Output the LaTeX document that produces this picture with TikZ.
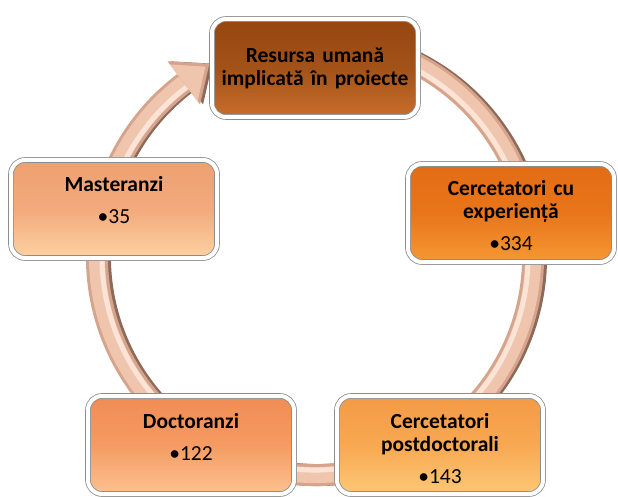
\documentclass[tikz,border=0pt]{standalone}
\usepackage{fontspec}
\setmainfont{Carlito}[WordSpace=0.75]
\usetikzlibrary{positioning,calc,backgrounds}
\definecolor{ringshadow}{HTML}{8C6A5A}
\definecolor{ringedge}{HTML}{D6A48C}
\definecolor{ringbody}{HTML}{EFC5AE}
\definecolor{ringlight}{HTML}{FBE3D6}
\tikzset{
  stage/.style={draw=black!45,line width=0.8pt,double=white,double distance=4pt,
    rounded corners=14pt,minimum width=206pt,minimum height=98pt,
    text width=200pt,align=center,inner sep=0pt,
    text height=14pt,text depth=48pt,
    font=\fontsize{21.5}{23}\selectfont\bfseries},
}
\begin{document}
\begin{tikzpicture}[x=1pt,y=1pt]
  \useasboundingbox (0,0) rectangle (618,496);
  % five stages
  \node[stage,text height=16pt,text depth=27.5pt,
    top color={rgb,255:red,150;green,70;blue,16},
    bottom color={rgb,255:red,200;green,110;blue,44},
    middle color={rgb,255:red,163;green,82;blue,24}] (res) at (315,428)
    {Resursa umană\\implicată în proiecte};
  \node[stage,top color={rgb,255:red,226;green,108;blue,20},
    bottom color={rgb,255:red,246;green,152;blue,52},
    middle color={rgb,255:red,233;green,117;blue,26}] (exp) at (511,283)
    {Cercetatori cu\\experiență\\[9pt]\mdseries •334};
  \node[stage,top color={rgb,255:red,244;green,154;blue,70},
    bottom color={rgb,255:red,253;green,200;blue,118},
    middle color={rgb,255:red,248;green,168;blue,82}] (post) at (440,51)
    {Cercetatori\\postdoctorali\\[9pt]\mdseries •143};
  \node[stage,top color={rgb,255:red,240;green,140;blue,84},
    bottom color={rgb,255:red,252;green,194;blue,146},
    middle color={rgb,255:red,245;green,155;blue,98}] (doct) at (191,51)
    {Doctoranzi\\[9pt]\mdseries •122};
  \node[stage,top color={rgb,255:red,238;green,160;blue,112},
    bottom color={rgb,255:red,252;green,210;blue,162},
    middle color={rgb,255:red,243;green,170;blue,124}] (mast) at (114,287)
    {Masteranzi\\[9pt]\mdseries •35};
  % cycle ring behind the boxes
  \begin{scope}[on background layer,shift={(315,239)}]
    \begin{scope}[xshift=3pt]
      \draw[ringshadow,line width=22pt] (70:218) arc[start angle=70,end angle=-233,radius=218];
      \fill[ringshadow] (127:191) -- ($(127:218)+(37:32)$) -- (127:245) -- cycle;
    \end{scope}
    \draw[ringedge,line width=22pt] (70:218) arc[start angle=70,end angle=-233,radius=218];
    \draw[ringbody,line width=16pt] (70:218) arc[start angle=70,end angle=-233,radius=218];
    \draw[ringlight,line width=5pt] (70:213) arc[start angle=70,end angle=-233,radius=213];
    \fill[ringedge] (127:191) -- ($(127:218)+(37:32)$) -- (127:245) -- cycle;
    \fill[ringbody] (127:195) -- ($(127:218)+(37:27)$) -- (127:241) -- cycle;
  \end{scope}
\end{tikzpicture}
\end{document}
